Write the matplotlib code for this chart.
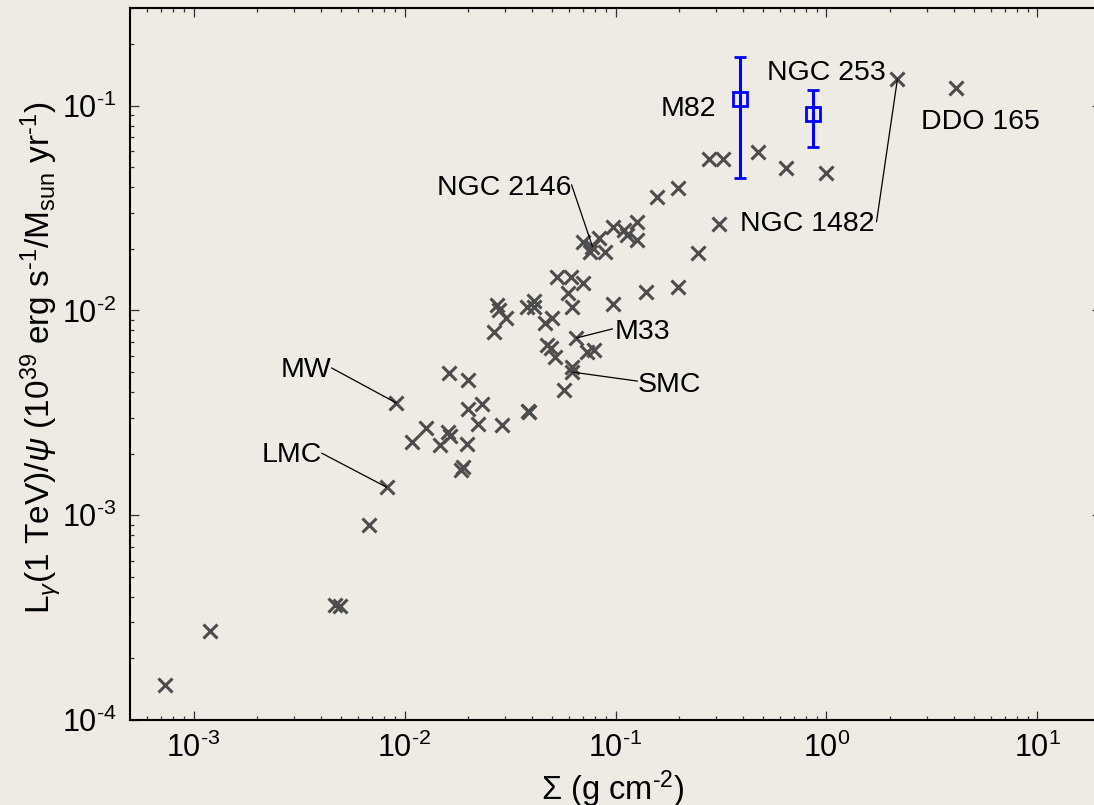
import matplotlib
matplotlib.use('Agg')
import matplotlib.pyplot as plt
from matplotlib.ticker import LogLocator, FuncFormatter, NullFormatter
import numpy as np

plt.rcParams['font.family'] = ['Liberation Sans', 'DejaVu Sans']
plt.rcParams['mathtext.fontset'] = 'custom'
plt.rcParams['mathtext.rm'] = 'Liberation Sans'
plt.rcParams['mathtext.it'] = 'Liberation Sans:italic'
plt.rcParams['mathtext.sf'] = 'Liberation Sans'

bg = '#EEEBE4'
cross_color = '#4D4D4D'

# gas surface density (g cm^-2) and gamma-ray luminosity per unit SFR
sigma = [7.3e-4, 1.2e-3, 4.66e-3, 4.92e-3, 6.82e-3, 1.09e-2, 1.27e-2, 1.48e-2,
         1.60e-2, 1.65e-2, 1.63e-2, 1.99e-2, 1.99e-2, 1.97e-2, 1.86e-2, 1.89e-2,
         2.34e-2, 2.24e-2, 2.91e-2, 3.83e-2, 3.91e-2, 5.73e-2, 6.25e-2, 5.14e-2,
         4.76e-2, 4.92e-2, 7.30e-2, 7.87e-2, 4.61e-2, 5.02e-2, 3.79e-2, 4.09e-2,
         4.13e-2, 2.73e-2, 2.79e-2, 2.67e-2, 3.04e-2, 5.31e-2, 6.12e-2, 6.98e-2,
         5.93e-2, 6.25e-2, 9.68e-2, 0.140, 0.197, 0.247, 0.311, 6.98e-2, 7.53e-2,
         8.39e-2, 8.87e-2, 9.68e-2, 0.110, 0.113, 0.127, 0.127, 0.158, 0.197,
         0.276, 0.322, 0.476, 0.646, 1.00, 4.13]
lum_per_sfr = [1.49e-4, 2.71e-4, 3.63e-4, 3.59e-4, 8.93e-4, 2.28e-3, 2.66e-3, 2.20e-3,
               2.55e-3, 2.43e-3, 4.94e-3, 4.57e-3, 3.30e-3, 2.22e-3, 1.66e-3, 1.72e-3,
               3.49e-3, 2.79e-3, 2.75e-3, 3.23e-3, 3.19e-3, 4.08e-3, 5.30e-3, 5.93e-3,
               6.78e-3, 6.56e-3, 6.27e-3, 6.41e-3, 8.69e-3, 9.19e-3, 1.04e-2, 1.11e-2,
               1.04e-2, 1.06e-2, 1.00e-2, 7.85e-3, 9.19e-3, 1.46e-2, 1.46e-2, 1.36e-2,
               1.22e-2, 1.04e-2, 1.08e-2, 1.23e-2, 1.30e-2, 1.91e-2, 2.65e-2, 2.16e-2,
               1.93e-2, 2.26e-2, 1.93e-2, 2.56e-2, 2.48e-2, 2.34e-2, 2.71e-2, 2.21e-2,
               3.59e-2, 3.97e-2, 5.51e-2, 5.51e-2, 5.96e-2, 4.98e-2, 4.70e-2, 0.1225]

# galaxies marked with a leader line
named = ['MW', 'LMC', 'SMC', 'M33', 'NGC 2146', 'NGC 1482']
named_sigma = [9.16e-3, 8.23e-3, 6.25e-2, 6.53e-2, 7.78e-2, 2.17]
named_lum = [3.53e-3, 1.37e-3, 5.00e-3, 7.34e-3, 2.05e-2, 0.1355]
# label anchor (x, baseline y), alignment, leader start
named_text = [(4.51e-3, 4.73e-3, 'right'), (4.05e-3, 1.82e-3, 'right'),
              (0.127, 3.99e-3, 'left'), (0.0989, 7.26e-3, 'left'),
              (0.0619, 0.0367, 'right'), (0.391, 0.0245, 'left')]
leader_start = [(4.51e-3, 5.24e-3), (4.05e-3, 2.01e-3), (0.127, 4.52e-3),
                (0.0968, 8.13e-3), (0.0619, 0.0411), (1.726, 0.0271)]

# starburst galaxies with measured TeV emission
starburst = ['M82', 'NGC 253']
sb_sigma = [0.391, 0.859]
sb_lum = [0.108, 0.0914]
sb_lo = [0.0445, 0.0631]
sb_hi = [0.172, 0.1197]

fig = plt.figure(figsize=(10.94, 8.05), dpi=100, facecolor=bg)
ax = fig.add_axes([130 / 1094, 85 / 805, 971 / 1094, 712 / 805], facecolor=bg)
ax.set_xscale('log')
ax.set_yscale('log')
ax.set_xlim(5e-4, 20)
ax.set_ylim(1e-4, 0.3)

ax.plot(sigma + named_sigma, lum_per_sfr + named_lum, 'x', color=cross_color,
        ms=10.5, mew=2.2, ls='none')

yerr = [np.array(sb_lum) - np.array(sb_lo), np.array(sb_hi) - np.array(sb_lum)]
ax.errorbar(sb_sigma, sb_lum, yerr=yerr, fmt='s', color='blue', mfc='none',
            mec='blue', ms=10, mew=2, elinewidth=2.2, capsize=4.5, capthick=2.2)

for name, sx, sy, (tx, ty, ha), (lx, ly) in zip(named, named_sigma, named_lum,
                                               named_text, leader_start):
    ax.text(tx, ty, name, fontsize=20.5, ha=ha, va='baseline')
    ax.annotate('', xy=(sx, sy), xytext=(lx, ly),
                arrowprops=dict(arrowstyle='-', color='black', lw=0.9,
                                shrinkA=0, shrinkB=0))

ax.text(0.301, 0.0894, 'M82', fontsize=20.5, ha='right', va='baseline')
ax.text(0.525, 0.134, 'NGC 253', fontsize=20.5, ha='left', va='baseline')
ax.text(2.79, 0.0772, 'DDO 165', fontsize=20.5, ha='left', va='baseline')


def pow_label(v, pos):
    e = int(round(np.log10(v)))
    if e < 0:
        return r'$10^{\text{-}%d}$' % (-e)
    return r'$10^{%d}$' % e


for axis in (ax.xaxis, ax.yaxis):
    axis.set_major_locator(LogLocator(base=10, numticks=20))
    axis.set_minor_locator(LogLocator(base=10, subs=np.arange(2, 10), numticks=20))
    axis.set_major_formatter(FuncFormatter(pow_label))
    axis.set_minor_formatter(NullFormatter())

ax.tick_params(which='both', direction='in', top=True, right=True,
               color='#333333', width=0.9, labelsize=22)
ax.tick_params(which='major', length=6.5)
ax.tick_params(which='minor', length=3.2)
ax.tick_params(axis='x', pad=9)
ax.tick_params(axis='y', pad=10)
for s in ax.spines.values():
    s.set_linewidth(1.5)

fig.text(613 / 1094, 5 / 805, r'$\Sigma$ (g cm$^{\text{-}2}$)', fontsize=23.5,
         ha='center', va='baseline')
fig.text(51 / 1094, 1 - 358 / 805,
         r'L$_\gamma$(1 TeV)/$\psi$ (10$^{39}$ erg s$^{\text{-}1}$/M$_{\rm sun}$ yr$^{\text{-}1}$)',
         fontsize=24, rotation=90, ha='center', va='baseline', rotation_mode='anchor')

fig.savefig('out.png', dpi=100, facecolor=bg)
